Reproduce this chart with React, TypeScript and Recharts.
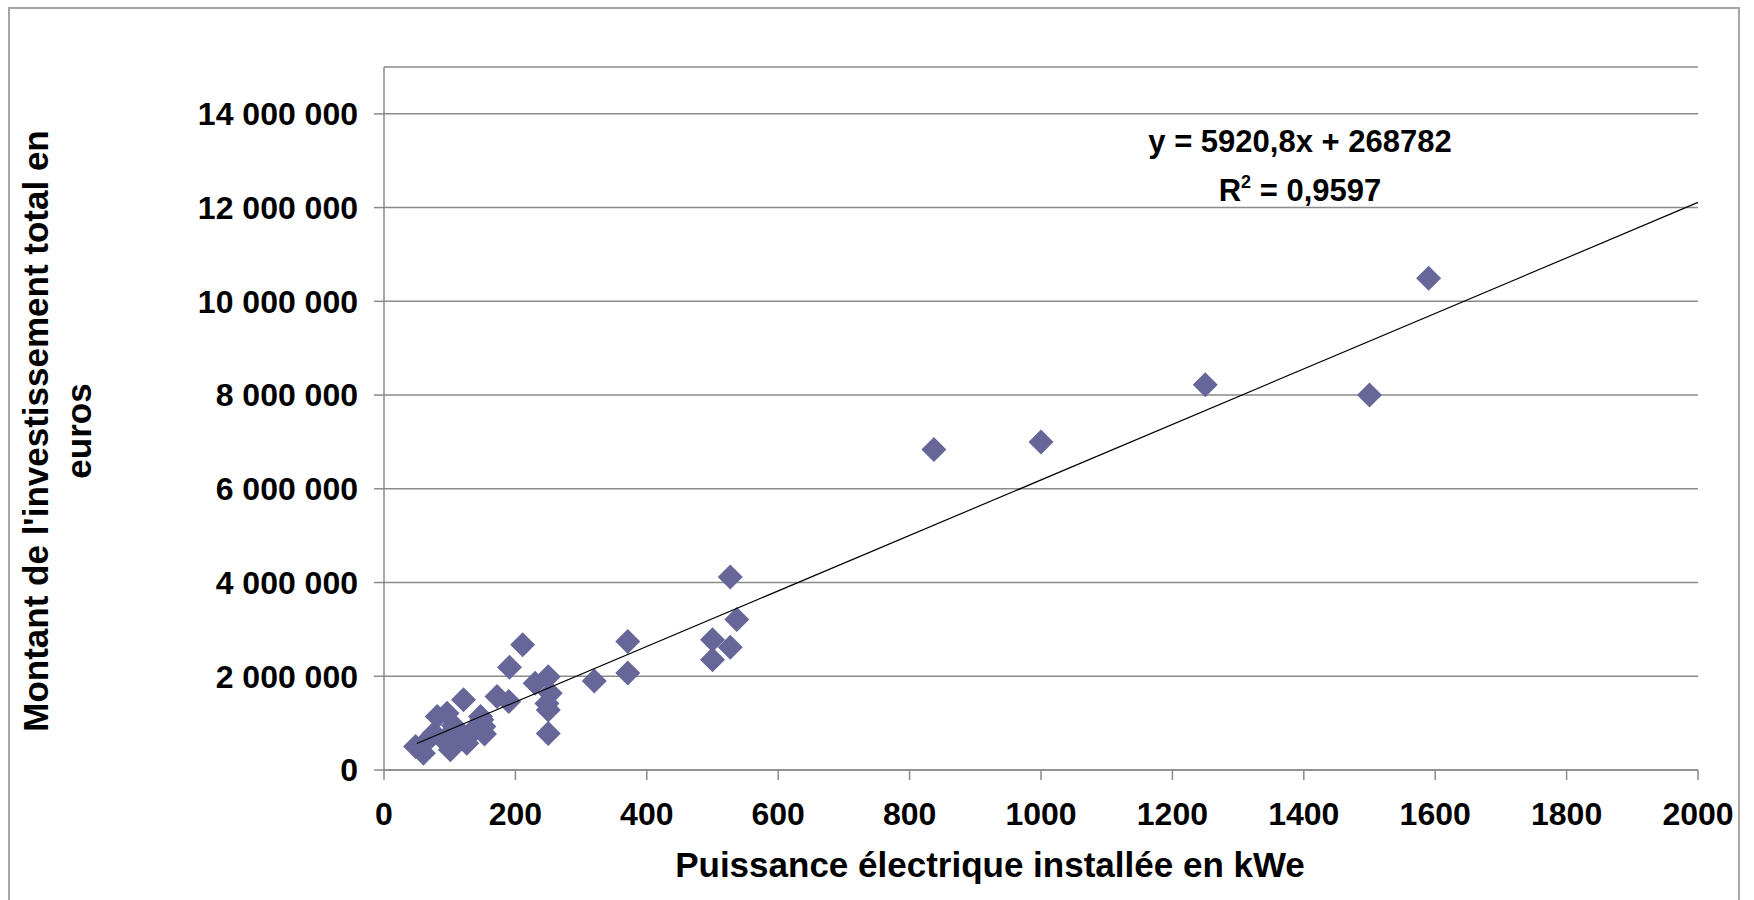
import React from "react";
import {
  ScatterChart,
  Scatter,
  XAxis,
  YAxis,
  CartesianGrid,
  Label,
} from "recharts";

// installed electrical power (kWe) and total investment (euros)
const powerKWe = [
  48, 60, 69, 76, 81, 91, 96, 101, 106, 111, 121, 126, 131, 140, 147, 149, 152,
  153, 172, 190, 191, 211, 230, 248, 250, 253, 250, 250, 320, 371, 371, 500,
  500, 527, 527, 537, 837, 1000, 1250, 1500, 1590,
];
const investment = [
  500000, 360000, 670000, 780000, 1140000, 640000, 1210000, 430000, 950000,
  710000, 1500000, 570000, 780000, 880000, 1140000, 1070000, 930000, 770000,
  1570000, 1460000, 2190000, 2670000, 1850000, 1420000, 1990000, 1640000,
  1280000, 780000, 1900000, 2740000, 2070000, 2780000, 2350000, 2620000,
  4120000, 3210000, 6840000, 7000000, 8220000, 8000000, 10490000,
];

const xTicks = [0, 200, 400, 600, 800, 1000, 1200, 1400, 1600, 1800, 2000];
const yTicks = [0, 2000000, 4000000, 6000000, 8000000, 10000000, 12000000, 14000000];

// linear trend shown on the chart
const slope = 5920.8;
const intercept = 268782;
const trendX = [50, 2000];

const points = powerKWe.map((x, i) => ({ x, y: investment[i] }));
const trend = trendX.map((x) => ({ x, y: slope * x + intercept }));

const FONT = "'Liberation Sans', Arial, sans-serif";
const GREY = "#8a8a8a";

const fmtEuro = (v: number) =>
  String(Math.round(v)).replace(/\B(?=(\d{3})+(?!\d))/g, " ");

const Diamond = (props: any) => {
  const { cx, cy } = props;
  const r = 12.5;
  return (
    <path
      d={`M${cx},${cy - r}L${cx + r},${cy}L${cx},${cy + r}L${cx - r},${cy}Z`}
      fill="#666699"
    />
  );
};

const App: React.FC = () => {
  return (
    <div style={{ position: "absolute", left: 0, top: 0, width: 1754, height: 900, background: "#fff" }}>
      <div
        style={{
          position: "absolute",
          left: 8,
          top: 7,
          width: 1732,
          height: 900,
          border: "2px solid #a6a6a6",
          boxSizing: "border-box",
        }}
      />
      <ScatterChart
        width={1754}
        height={900}
        margin={{ top: 67, right: 56, bottom: 0, left: 0 }}
        style={{ position: "absolute", left: 0, top: 0, fontFamily: FONT }}
      >
        <CartesianGrid vertical={false} stroke={GREY} strokeWidth={1.5} />
        <XAxis
          type="number"
          dataKey="x"
          domain={[0, 2000]}
          ticks={xTicks}
          height={130}
          axisLine={{ stroke: GREY, strokeWidth: 1.5 }}
          tickLine={{ stroke: GREY, strokeWidth: 1.5 }}
          tickSize={10}
          tickMargin={22}
          tick={{ fill: "#000", fontSize: 32, fontWeight: 700, fontFamily: FONT }}
        >
          <Label
            content={() => (
              <text
                x={990}
                y={877}
                textAnchor="middle"
                fontSize={35}
                fontWeight={700}
                fontFamily={FONT}
                fill="#000"
              >
                Puissance électrique installée en kWe
              </text>
            )}
          />
        </XAxis>
        <YAxis
          type="number"
          dataKey="y"
          domain={[0, 15000000]}
          ticks={yTicks}
          width={384}
          axisLine={{ stroke: GREY, strokeWidth: 1.5 }}
          tickLine={{ stroke: GREY, strokeWidth: 1.5 }}
          tickSize={10}
          tickMargin={16}
          tickFormatter={fmtEuro}
          tick={{ fill: "#000", fontSize: 32, fontWeight: 700, fontFamily: FONT }}
        >
          <Label
            content={() => (
              <g fontSize={35} fontWeight={700} fontFamily={FONT} fill="#000">
                <text x={48} y={431} textAnchor="middle" transform="rotate(-90, 48, 431)">
                  Montant de l'investissement total en
                </text>
                <text x={91} y={431} textAnchor="middle" transform="rotate(-90, 91, 431)">
                  euros
                </text>
              </g>
            )}
          />
        </YAxis>
        <Scatter data={points} shape={<Diamond />} isAnimationActive={false} />
        <Scatter
          data={trend}
          line={{ stroke: "#000", strokeWidth: 1.2 }}
          shape={() => <g />}
          isAnimationActive={false}
        />
      </ScatterChart>
      <svg
        width={1754}
        height={900}
        style={{ position: "absolute", left: 0, top: 0, pointerEvents: "none" }}
      >
        <g fontFamily={FONT} fontWeight={700} fill="#000" textAnchor="middle">
          <text x={1300} y={152} fontSize={31}>
            y = 5920,8x + 268782
          </text>
          <text x={1300} y={201} fontSize={31}>
            R<tspan dy={-13} fontSize={18}>2</tspan>
            <tspan dy={13}> = 0,9597</tspan>
          </text>
        </g>
      </svg>
    </div>
  );
};

export default App;
